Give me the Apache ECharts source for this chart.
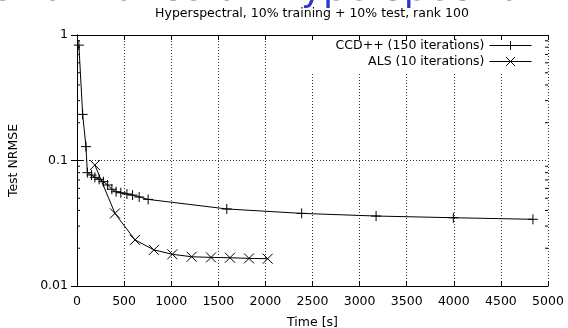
<!DOCTYPE html>
<html>
<head>
<meta charset="utf-8">
<script src="https://cdn.jsdelivr.net/npm/echarts@6/dist/echarts.min.js"></script>
<style>
  html, body { margin: 0; padding: 0; background: #fff; }
  #chart { width: 568px; height: 328px; }
</style>
</head>
<body>
<div id="chart"></div>
<script>
  // data
  var ccdTime = [20, 60, 95, 110, 155, 190, 235, 280, 325, 370, 415, 465, 530, 590, 660, 755, 1590, 2385, 3175, 3995, 4840];
  var ccdRmse = [0.83, 0.233, 0.129, 0.080, 0.0766, 0.0734, 0.0708, 0.0678, 0.0638, 0.059, 0.0564, 0.0553, 0.0541, 0.053, 0.0512, 0.049, 0.0411, 0.0379, 0.0361, 0.035, 0.034];
  var alsTime = [190, 403, 616, 817, 1012, 1217, 1423, 1624, 1826, 2024];
  var alsRmse = [0.092, 0.0379, 0.0233, 0.0194, 0.0179, 0.0171, 0.0169, 0.0168, 0.0166, 0.0165];
  var minorTicks = [0.02, 0.03, 0.04, 0.05, 0.06, 0.07, 0.08, 0.09, 0.2, 0.3, 0.4, 0.5, 0.6, 0.7, 0.8, 0.9];
  var seriesNames = ['CCD++ (150 iterations)', 'ALS (10 iterations)'];

  var FONT = 'DejaVu Sans';
  var FS = 12.5;
  var PLUS = 'path://M0,5L10,5M5,0L5,10';
  var CROSS = 'path://M0,0L10,10M10,0L0,10';

  function pairs(xs, ys) {
    var out = [];
    for (var i = 0; i < xs.length; i++) {
      out.push([xs[i], ys[i]]);
    }
    return out;
  }

  var chart = echarts.init(document.getElementById('chart'));
  chart.setOption({
    animation: false,
    backgroundColor: '#fff',
    textStyle: {fontFamily: FONT, color: '#000'},
    graphic: [
      {
        type: 'text', x: 533, y: -10, z: 10,
        style: {text: 'Performance on Hyperspectral', fill: '#3333cc', font: '37px "DejaVu Sans"', align: 'right', verticalAlign: 'middle'}
      },
      {
        type: 'text', x: 312, y: 14, z: 10,
        style: {text: 'Hyperspectral, 10% training + 10% test, rank 100', fill: '#000', font: FS + 'px "DejaVu Sans"', align: 'center', verticalAlign: 'middle'}
      }
    ],
    grid: {left: 77, right: 20, top: 35, bottom: 42, outerBoundsMode: 'none'},
    legend: {
      data: seriesNames,
      orient: 'vertical',
      right: 21,
      top: 36,
      align: 'right',
      itemWidth: 42,
      itemHeight: 11,
      itemGap: 3,
      padding: [3, 15, 4, 35],
      backgroundColor: '#fff',
      lineStyle: {width: 1},
      itemStyle: {borderWidth: 1},
      textStyle: {fontFamily: FONT, fontSize: FS, color: '#000'}
    },
    xAxis: [
      {
        type: 'value', min: 0, max: 5000, interval: 500,
        name: 'Time [s]', nameLocation: 'middle', nameGap: 30,
        nameTextStyle: {fontFamily: FONT, fontSize: FS, color: '#000'},
        axisLine: {lineStyle: {color: '#000', width: 1}},
        axisTick: {inside: true, length: 5, lineStyle: {color: '#000'}},
        axisLabel: {fontFamily: FONT, fontSize: FS, color: '#000', margin: 9,
          formatter: function (v) { return String(v); }},
        splitLine: {show: true, lineStyle: {color: '#333', type: [1, 2], width: 1}}
      },
      {
        type: 'value', min: 0, max: 5000, interval: 500, position: 'top', z: 10,
        axisLine: {show: true, lineStyle: {color: '#000', width: 1}},
        axisTick: {inside: true, length: 5, lineStyle: {color: '#000'}},
        axisLabel: {show: false},
        splitLine: {show: false}
      }
    ],
    yAxis: [
      {
        type: 'log', logBase: 10, min: 0.01, max: 1,
        name: 'Test NRMSE', nameLocation: 'middle', nameGap: 57, nameRotate: 90,
        nameTextStyle: {fontFamily: FONT, fontSize: FS, color: '#000'},
        axisLine: {show: true, lineStyle: {color: '#000', width: 1}},
        axisTick: {inside: true, length: 6, lineStyle: {color: '#000'}},
        axisLabel: {fontFamily: FONT, fontSize: FS, color: '#000', margin: 9},
        splitLine: {show: true, lineStyle: {color: '#333', type: [1, 2], width: 1}}
      },
      {
        type: 'log', logBase: 10, min: 0.01, max: 1, position: 'right', z: 10,
        axisLine: {show: true, lineStyle: {color: '#000', width: 1}},
        axisTick: {inside: true, length: 6, lineStyle: {color: '#000'}},
        axisLabel: {show: false},
        splitLine: {show: false}
      }
    ],
    series: [
      {
        name: seriesNames[0],
        type: 'line',
        data: pairs(ccdTime, ccdRmse),
        symbol: PLUS,
        symbolSize: 10,
        showAllSymbol: true,
        lineStyle: {color: '#000', width: 1},
        itemStyle: {color: '#000', borderColor: '#000', borderWidth: 1}
      },
      {
        name: seriesNames[1],
        type: 'line',
        data: pairs(alsTime, alsRmse),
        symbol: CROSS,
        symbolSize: 10,
        showAllSymbol: true,
        lineStyle: {color: '#000', width: 1},
        itemStyle: {color: '#000', borderColor: '#000', borderWidth: 1}
      },
      {
        // minor log ticks on both sides
        type: 'custom',
        z: 10,
        silent: true,
        data: minorTicks.map(function (v) { return [0, v]; }),
        renderItem: function (params, api) {
          var left = api.coord([0, api.value(1)]);
          var right = api.coord([5000, api.value(1)]);
          var st = {stroke: '#000', lineWidth: 1};
          return {
            type: 'group',
            children: [
              {type: 'line', shape: {x1: left[0], y1: left[1], x2: left[0] + 3, y2: left[1]}, style: st},
              {type: 'line', shape: {x1: right[0], y1: right[1], x2: right[0] - 3, y2: right[1]}, style: st}
            ]
          };
        }
      }
    ]
  });
</script>
</body>
</html>
